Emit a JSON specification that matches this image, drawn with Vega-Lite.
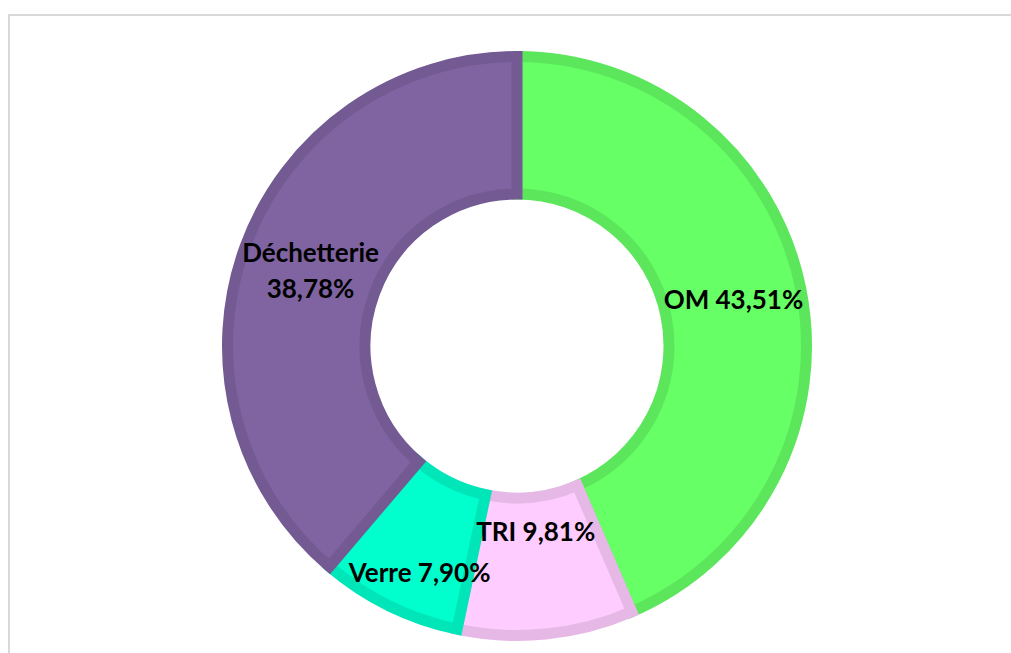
{
  "$schema": "https://vega.github.io/schema/vega-lite/v6.json",
  "width": 1016,
  "height": 662,
  "autosize": {"type": "none"},
  "padding": {"left": 9, "top": 15, "right": 0, "bottom": 0},
  "background": "white",
  "data": {
    "values": [
      {"category": "OM", "value": 43.51, "order": 1, "label": "OM 43,51%"},
      {"category": "TRI", "value": 9.81, "order": 2, "label": "TRI 9,81%"},
      {"category": "Verre", "value": 7.90, "order": 3, "label": "Verre 7,90%"},
      {"category": "Déchetterie", "value": 38.78, "order": 4, "label": "Déchetterie\n38,78%"}
    ]
  },
  "transform": [
    {"stack": "value", "groupby": [], "sort": [{"field": "order", "order": "ascending"}], "as": ["v0", "v1"]},
    {"calculate": "(datum.v0 + datum.v1) / 2", "as": "mid"}
  ],
  "encoding": {
    "theta": {"field": "v0", "type": "quantitative", "scale": {"domain": [0, 100]}},
    "theta2": {"field": "v1"}
  },
  "layer": [
    {
      "transform": [{"filter": "datum.order === 1"}],
      "mark": {"type": "rect", "fill": null, "stroke": "#d9d9d9", "strokeWidth": 2},
      "encoding": {"theta": null, "theta2": null}
    },
    {
      "mark": {"type": "arc", "outerRadius": 289.5, "innerRadius": 152, "strokeWidth": 11},
      "encoding": {
        "color": {
          "field": "category", "type": "nominal", "legend": null,
          "scale": {"domain": ["OM", "TRI", "Verre", "Déchetterie"], "range": ["#66FF66", "#FFCCFF", "#00FFCC", "#8064A2"]}
        },
        "stroke": {
          "field": "category", "type": "nominal", "legend": null,
          "scale": {"domain": ["OM", "TRI", "Verre", "Déchetterie"], "range": ["#5CE65C", "#E6B8E6", "#00E6B8", "#735A92"]}
        }
      }
    },
    {
      "transform": [{"filter": "datum.category === 'OM'"}],
      "mark": {"type": "text", "radius": 221, "font": "Lato", "fontWeight": "bold", "fontSize": 26, "fill": "black", "baseline": "middle", "align": "center"},
      "encoding": {"text": {"field": "label"}, "theta": {"field": "mid", "type": "quantitative"}, "theta2": null}
    },
    {
      "transform": [{"filter": "datum.category === 'TRI'"}],
      "mark": {"type": "text", "radius": 188, "font": "Lato", "fontWeight": "bold", "fontSize": 26, "fill": "black", "baseline": "middle", "align": "center"},
      "encoding": {"text": {"field": "label"}, "theta": {"field": "mid", "type": "quantitative"}, "theta2": null}
    },
    {
      "transform": [{"filter": "datum.category === 'Verre'"}],
      "mark": {"type": "text", "radius": 248, "dx": 12, "dy": 5, "font": "Lato", "fontWeight": "bold", "fontSize": 26, "fill": "black", "baseline": "middle", "align": "center"},
      "encoding": {"text": {"field": "label"}, "theta": {"field": "mid", "type": "quantitative"}, "theta2": null}
    },
    {
      "transform": [{"filter": "datum.category === 'Déchetterie'"}],
      "mark": {"type": "text", "radius": 220, "dy": -16, "font": "Lato", "fontWeight": "bold", "fontSize": 26, "fill": "black", "baseline": "middle", "align": "center", "lineBreak": "\n", "lineHeight": 36},
      "encoding": {"text": {"field": "label"}, "theta": {"field": "mid", "type": "quantitative"}, "theta2": null}
    }
  ]
}
